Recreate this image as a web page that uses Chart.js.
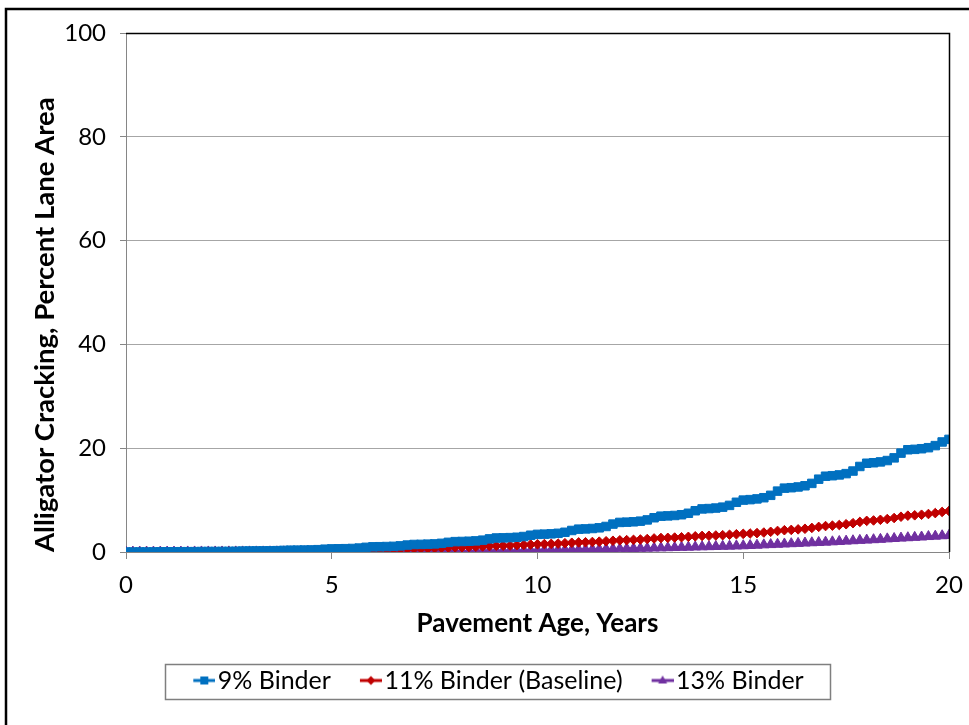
<!DOCTYPE html>
<html><head><meta charset="utf-8">
<script src="https://cdn.jsdelivr.net/npm/chart.js@4/dist/chart.umd.min.js"></script>
<style>html,body{margin:0;padding:0;background:#fff;overflow:hidden}</style>
</head><body>
<canvas id="c" width="969" height="725"></canvas>
<script>
const seriesNames = ["9% Binder", "11% Binder (Baseline)", "13% Binder"];
const xTicks = [0, 5, 10, 15, 20];
const yTicks = [0, 20, 40, 60, 80, 100];
// values every two months, age 0 to 20 years
const binder9 = [0,
0.00,0.01,0.01,0.02,0.04,0.05,
0.05,0.06,0.06,0.07,0.09,0.10,
0.10,0.11,0.12,0.14,0.18,0.20,
0.21,0.22,0.23,0.26,0.31,0.35,
0.36,0.38,0.40,0.45,0.54,0.60,
0.62,0.64,0.68,0.76,0.90,1.00,
1.02,1.05,1.09,1.18,1.34,1.45,
1.47,1.51,1.56,1.67,1.86,2.00,
2.03,2.07,2.14,2.28,2.53,2.70,
2.73,2.77,2.84,2.98,3.23,3.40,
3.44,3.50,3.60,3.80,4.15,4.40,
4.45,4.53,4.66,4.92,5.38,5.70,
5.75,5.82,5.94,6.18,6.60,6.90,
6.96,7.04,7.18,7.46,7.95,8.30,
8.37,8.47,8.64,8.98,9.58,10.00,
10.09,10.23,10.46,10.92,11.73,12.30,
12.39,12.53,12.76,13.22,14.03,14.60,
14.70,14.85,15.10,15.60,16.48,17.10,
17.20,17.36,17.62,18.14,19.05,19.70,
19.78,19.90,20.10,20.50,21.20,21.70];
const binder11 = [0,
0.00,0.00,0.01,0.01,0.02,0.02,
0.02,0.03,0.03,0.04,0.04,0.05,
0.05,0.06,0.07,0.08,0.09,0.10,
0.11,0.12,0.13,0.14,0.16,0.18,
0.19,0.20,0.22,0.25,0.28,0.30,
0.31,0.33,0.35,0.38,0.42,0.45,
0.47,0.49,0.52,0.56,0.61,0.65,
0.67,0.70,0.74,0.79,0.85,0.90,
0.92,0.96,1.01,1.07,1.14,1.20,
1.22,1.26,1.31,1.37,1.44,1.50,
1.53,1.57,1.62,1.69,1.78,1.85,
1.88,1.93,1.99,2.07,2.17,2.25,
2.29,2.34,2.41,2.50,2.61,2.70,
2.73,2.78,2.84,2.92,3.02,3.10,
3.13,3.18,3.24,3.32,3.42,3.50,
3.56,3.64,3.75,3.89,4.06,4.20,
4.26,4.36,4.48,4.64,4.84,5.00,
5.08,5.20,5.35,5.55,5.80,6.00,
6.08,6.20,6.35,6.55,6.80,7.00,
7.07,7.18,7.32,7.50,7.72,7.90];
const binder13 = [0,
0,0,0,0,0,0,
0,0,0.01,0.01,0.01,0.01,
0.01,0.01,0.02,0.02,0.02,0.02,
0.02,0.02,0.03,0.03,0.03,0.03,
0.03,0.04,0.04,0.04,0.05,0.05,
0.05,0.06,0.07,0.07,0.08,0.08,
0.09,0.09,0.10,0.11,0.11,0.12,
0.13,0.14,0.15,0.16,0.17,0.18,
0.19,0.20,0.22,0.23,0.24,0.25,
0.27,0.28,0.30,0.32,0.33,0.35,
0.37,0.39,0.41,0.43,0.45,0.47,
0.49,0.52,0.55,0.57,0.60,0.62,
0.65,0.68,0.71,0.74,0.77,0.80,
0.83,0.86,0.90,0.93,0.97,1.00,
1.03,1.06,1.10,1.13,1.17,1.20,
1.25,1.31,1.38,1.43,1.49,1.55,
1.60,1.66,1.73,1.78,1.84,1.90,
1.96,2.03,2.10,2.17,2.24,2.30,
2.37,2.44,2.53,2.60,2.68,2.75,
2.82,2.89,2.98,3.05,3.13,3.20];
const ages = binder9.map((_, i) => i / 6);

const colors = ['#0070C0', '#C00000', '#7030A0'];
const shapes = ['rect', 'rectRot', 'triangle'];
const radii = [6, 4.8, 6];

function makeIcon(color, shape) {
  const c = document.createElement('canvas');
  c.width = 32; c.height = 14;
  const g = c.getContext('2d');
  g.strokeStyle = color; g.fillStyle = color; g.lineWidth = 3;
  g.beginPath(); g.moveTo(10, 7); g.lineTo(32, 7); g.stroke();
  const cx = 21, cy = 7;
  g.beginPath();
  if (shape === 'rect') { g.rect(cx - 4, cy - 4, 8, 8); }
  else if (shape === 'rectRot') { g.moveTo(cx, cy - 4.5); g.lineTo(cx + 4.5, cy); g.lineTo(cx, cy + 4.5); g.lineTo(cx - 4.5, cy); g.closePath(); }
  else { g.moveTo(cx, cy - 5); g.lineTo(cx + 4.5, cy + 3); g.lineTo(cx - 4.5, cy + 3); g.closePath(); }
  g.fill();
  return c;
}
const icons = colors.map((col, i) => makeIcon(col, shapes[i]));

const seriesValues = [binder9, binder11, binder13];
const datasets = seriesValues.map((vals, i) => ({
  label: seriesNames[i],
  data: vals.map((v, k) => ({x: ages[k], y: v})),
  borderColor: colors[i],
  backgroundColor: colors[i],
  borderWidth: 2,
  pointStyle: shapes[i],
  pointRadius: radii[i],
  pointBorderWidth: 1,
  pointBorderColor: colors[i],
  pointBackgroundColor: colors[i],
  tension: 0
}));

const framePlugin = {
  id: 'frame',
  beforeDraw(chart) {
    const ctx = chart.ctx;
    ctx.save();
    ctx.fillStyle = '#fff';
    ctx.fillRect(0, 0, chart.width, chart.height);
    ctx.strokeStyle = '#000';
    ctx.lineWidth = 2.5;
    ctx.beginPath();
    ctx.moveTo(6, chart.height + 5);
    ctx.lineTo(6, 9);
    ctx.lineTo(chart.width + 5, 9);
    ctx.stroke();
    ctx.restore();
  },
  afterDatasetsDraw(chart) {
    const {ctx, chartArea: a} = chart;
    ctx.save();
    ctx.strokeStyle = '#000';
    ctx.lineWidth = 1.5;
    ctx.beginPath();
    ctx.moveTo(a.left, Math.round(a.top) + 0.5);
    ctx.lineTo(Math.round(a.right) + 0.5, Math.round(a.top) + 0.5);
    ctx.lineTo(Math.round(a.right) + 0.5, a.bottom);
    ctx.stroke();
    ctx.restore();
  },
  afterDraw(chart) {
    const hb = chart.legend && chart.legend.legendHitBoxes;
    if (!hb || !hb.length) return;
    const ctx = chart.ctx;
    const first = hb[0], last = hb[hb.length - 1];
    const x0 = Math.round(first.left - 28), x1 = Math.round(last.left + last.width + 26);
    const cy = first.top + first.height / 2;
    ctx.save();
    ctx.strokeStyle = '#7f7f7f';
    ctx.lineWidth = 1.5;
    ctx.strokeRect(x0 + 0.5, Math.round(cy - 17) + 0.5, x1 - x0, 35);
    ctx.restore();
  }
};

Chart.defaults.font.family = 'Lato, "Open Sans", sans-serif';
Chart.defaults.color = '#000';

new Chart(document.getElementById('c'), {
  type: 'line',
  data: { datasets },
  plugins: [framePlugin],
  options: {
    responsive: false,
    animation: false,
    devicePixelRatio: 1,
    layout: { padding: { top: 33, right: 20, bottom: 22, left: 48 } },
    plugins: {
      tooltip: { enabled: false },
      legend: {
        position: 'bottom',
        labels: {
          usePointStyle: true,
          pointStyleWidth: 12,
          boxHeight: 12,
          padding: 29,
          color: '#000',
          font: { size: 25 },
          generateLabels: (chart) => chart.data.datasets.map((ds, i) => ({
            text: ds.label,
            pointStyle: icons[i],
            fillStyle: ds.borderColor,
            strokeStyle: ds.borderColor,
            lineWidth: 0,
            hidden: false,
            datasetIndex: i,
            fontColor: '#000'
          }))
        }
      }
    },
    scales: {
      x: {
        type: 'linear', min: 0, max: 20,
        afterBuildTicks: (s) => { s.ticks = xTicks.map(v => ({value: v})); },
        afterFit: (s) => { s.height = 87; s.paddingRight = 0; },
        grid: { drawOnChartArea: false, drawTicks: true, tickLength: 7, tickColor: '#868686' },
        border: { color: '#868686', width: 1 },
        ticks: { padding: 12, color: '#000', font: { size: 24 }, maxRotation: 0 },
        title: { display: true, text: 'Pavement Age, Years', color: '#000', font: { size: 26, weight: 'bold' }, padding: { top: 0, bottom: 0 } }
      },
      y: {
        min: 0, max: 100,
        afterBuildTicks: (s) => { s.ticks = yTicks.map(v => ({value: v})); },
        afterFit: (s) => { s.width = 78; },
        grid: { color: '#a6a6a6', lineWidth: 1, drawTicks: true, tickLength: 6, tickColor: '#868686' },
        border: { color: '#868686', width: 1 },
        ticks: { padding: 14, color: '#000', font: { size: 24 } },
        title: { display: true, text: 'Alligator Cracking, Percent Lane Area', align: 'start', color: '#000', font: { size: 27.5, weight: 'bold' }, padding: { top: -19, bottom: 0 } }
      }
    }
  }
});
</script>
</body></html>
